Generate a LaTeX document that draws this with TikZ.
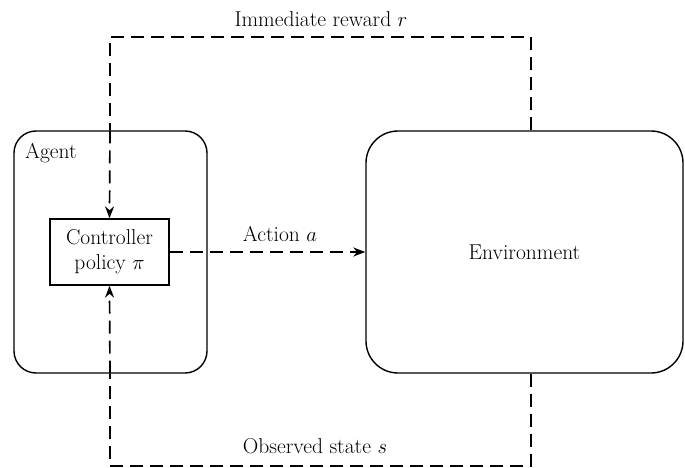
\documentclass[tikz,border=0pt]{standalone}
\usetikzlibrary{arrows.meta}
\begin{document}
\begin{tikzpicture}[x=1pt,y=-1pt,
  box/.style={draw, line width=1.4pt, inner sep=0pt},
  flow/.style={line width=1.7pt, dash pattern=on 13pt off 7pt},
  tip/.style={-{Stealth[length=12pt,width=9pt]}},
  lbl/.style={font=\fontsize{21.5}{25}\selectfont, inner sep=0pt}]
\useasboundingbox (0,0) rectangle (685,468);
\node[box, rounded corners=22pt, minimum width=193pt, minimum height=242pt] (agent) at (110.5,252) {};
\node[box, rounded corners=32pt, minimum width=317pt, minimum height=242pt, lbl] (env) at (524.5,252) {Environment};
\node[box, minimum width=119pt, minimum height=66pt, fill=white, lbl, align=center] (ctrl) at (109.5,252) {Controller\\policy $\pi$};
\node[lbl, anchor=west] (agentlbl) at (25,153) {Agent};
\coordinate (rt) at (531,37);
\coordinate (lt) at (110,37);
\coordinate (rb) at (531,466);
\coordinate (lb) at (110,466);
\coordinate (envtop) at (rt |- env.north);
\coordinate (envbot) at (rb |- env.south);
\node[lbl] (rewardlbl) at (321,19) {Immediate reward $r$};
\node[lbl] (actionlbl) at (280,234) {Action $a$};
\node[lbl] (statelbl) at (315,446) {Observed state $s$};
\draw[flow] (envtop) -- (rt) -- (lt) -- (agent.north -| lt);
\draw[flow, tip] (agent.north -| lt) -- (ctrl.north);
\draw[flow] (envbot) -- (rb) -- (lb) -- (agent.south -| lb);
\draw[flow, tip] (agent.south -| lb) -- (ctrl.south);
\draw[flow, tip] (ctrl.east) -- (env.west);
\end{tikzpicture}
\end{document}
